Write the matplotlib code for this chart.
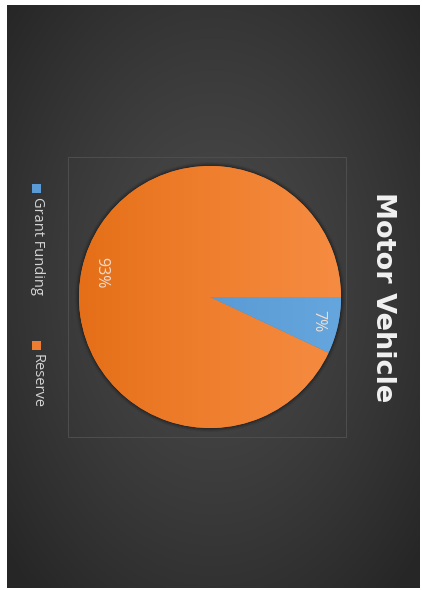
import numpy as np
import matplotlib
matplotlib.use("Agg")
import matplotlib.pyplot as plt
from matplotlib.patches import Rectangle, Circle

title = "Motor Vehicle"
categories = ["Grant Funding", "Reserve"]
shares = [7, 93]
colors = ["#5b9bd5", "#ed7d31"]

W, H = 422, 590
fig = plt.figure(figsize=(W / 100, H / 100), dpi=100)
fig.patch.set_facecolor("white")

def fx(px):
    return px / W

def fy(py):
    return 1 - py / H

# dark card with radial gradient
bg = fig.add_axes([fx(7), fy(588), fx(420) - fx(7), fy(5) - fy(588)])
yy, xx = np.mgrid[-1:1:300j, -1:1:220j]
r = np.sqrt((xx * 1.0) ** 2 + ((yy + 0.05) * 0.95) ** 2)
val = 0.29 - 0.14 * np.clip(r / 1.35, 0, 1) ** 1.3
bg.imshow(np.dstack([val, val, val]), extent=[0, 1, 0, 1], aspect="auto",
          interpolation="bilinear")
bg.set_axis_off()

# faint plot-area frame
fig.patches.append(Rectangle((fx(68), fy(437)), fx(346) - fx(68), fy(157) - fy(437),
                             transform=fig.transFigure, fill=False,
                             edgecolor="#4e4e4e", lw=0.7, zorder=1))

# pie (drawn rotated a quarter turn)
R = 131
cx, cy = 210, 297
ax = fig.add_axes([fx(cx - R), fy(cy + R), 2 * R / W, 2 * R / H])
ax.set_axis_off()
for k, a in [(1.03, 0.10), (1.02, 0.18), (1.01, 0.3)]:
    ax.add_patch(Circle((0, 0), k, color="#151515", alpha=a, lw=0, zorder=0))
wedges, texts, autotexts = ax.pie(
    shares, colors=colors, startangle=0, counterclock=False, radius=1,
    autopct="%1.0f%%", pctdistance=0.85,
    wedgeprops=dict(linewidth=0, zorder=1),
    textprops=dict(color="#f0ddd0", fontsize=11.5, family="Open Sans", rotation=-90))
for t in autotexts:
    t.set_zorder(5)

# horizontal shading on each wedge
grad = np.linspace(0, 1, 256)[None, :]
orange_map = matplotlib.colors.LinearSegmentedColormap.from_list(
    "og", ["#e56f18", "#ef7f2e", "#f68c42"])
im = ax.imshow(grad, extent=[-1, 1, -1, 1], cmap=orange_map, aspect="auto", zorder=2)
im.set_clip_path(wedges[1])
blue_map = matplotlib.colors.LinearSegmentedColormap.from_list(
    "bg", ["#4f8fcc", "#5b9bd5", "#66a6de"])
im2 = ax.imshow(grad, extent=[-1, 1, -1, 1], cmap=blue_map, aspect="auto", zorder=2)
im2.set_clip_path(wedges[0])
ax.set_xlim(-1.06, 1.06)
ax.set_ylim(-1.06, 1.06)
ax.set_position([fx(cx - R * 1.06), fy(cy + R * 1.06), 2 * R * 1.06 / W, 2 * R * 1.06 / H])

# title
fig.text(fx(383), fy(297), title, rotation=-90, ha="center", va="center",
         fontsize=19.5, fontweight="bold", family="DejaVu Sans", color="#f2f2f2")

# legend
leg_starts = [184, 341]
for name, col, y0 in zip(categories, colors, leg_starts):
    fig.patches.append(Rectangle((fx(32), fy(y0 + 9)), fx(9), 9 / H,
                                 transform=fig.transFigure, color=col, lw=0))
    fig.text(fx(37), fy(y0 + 13), name, rotation=-90, ha="center", va="top",
             fontsize=10.5, family="Open Sans", color="#d4d4d4")

fig.savefig("out.png", dpi=100)
